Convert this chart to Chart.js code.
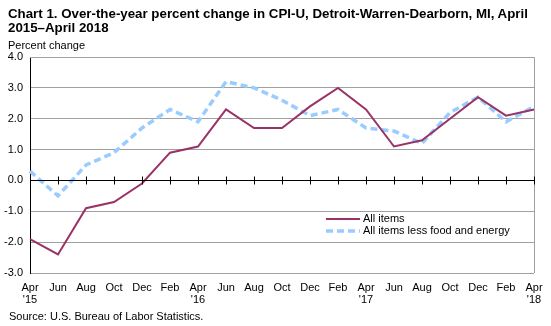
<!DOCTYPE html>
<html>
<head>
<meta charset="utf-8">
<script src="https://cdn.jsdelivr.net/npm/chart.js@4/dist/chart.umd.min.js"></script>
<style>
body { margin: 0; background: #fff; font-family: "Liberation Sans", Arial, sans-serif; }
#wrap { position: relative; width: 551px; height: 326px; }
#title { position: absolute; left: 8px; top: 7px; font-size: 13.3px; font-weight: bold; line-height: 14px; color: #000; }
#ylab { position: absolute; left: 8px; top: 39px; font-size: 11px; color: #000; }
#src { position: absolute; left: 9px; top: 310px; font-size: 11px; color: #000; }
canvas { position: absolute; left: 0; top: 0; }
</style>
</head>
<body>
<div id="wrap">
<canvas id="chart" width="551" height="326"></canvas>
<div id="title">Chart 1. Over-the-year percent change in CPI-U, Detroit-Warren-Dearborn, MI, April<br>2015–April 2018</div>
<div id="ylab">Percent change</div>
<div id="src">Source: U.S. Bureau of Labor Statistics.</div>
</div>
<script>
const months = ['Apr', 'Jun', 'Aug', 'Oct', 'Dec', 'Feb', 'Apr', 'Jun', 'Aug', 'Oct', 'Dec', 'Feb', 'Apr', 'Jun', 'Aug', 'Oct', 'Dec', 'Feb', 'Apr'];
const years = ["'15", '', '', '', '', '', "'16", '', '', '', '', '', "'17", '', '', '', '', '', "'18"];
const allItems = [-1.9, -2.4, -0.9, -0.7, -0.1, 0.9, 1.1, 2.3, 1.7, 1.7, 2.4, 3.0, 2.3, 1.1, 1.3, 2.0, 2.7, 2.1, 2.3];
const core = [0.3, -0.5, 0.5, 0.9, 1.7, 2.3, 1.9, 3.2, 3.0, 2.6, 2.1, 2.3, 1.7, 1.6, 1.2, 2.2, 2.7, 1.9, 2.4];

const labels = months.map((m, i) => years[i] ? [m, years[i]] : m);
const FONT = '"Liberation Sans", Arial, sans-serif';

// zero line with tick marks, plot frame and legend
const extras = {
  id: 'extras',
  afterDatasetsDraw(c) {
    const { ctx, chartArea: a, scales: { x, y } } = c;
    ctx.save();
    ctx.strokeStyle = '#a0a0a0';
    ctx.lineWidth = 1;
    ctx.beginPath();
    ctx.moveTo(a.left, a.top + 0.5);
    ctx.lineTo(a.right + 0.5, a.top + 0.5);
    ctx.lineTo(a.right + 0.5, a.bottom);
    ctx.stroke();

    const y0 = Math.round(y.getPixelForValue(0)) + 0.5;
    ctx.strokeStyle = '#000';
    ctx.beginPath();
    ctx.moveTo(a.left, y0);
    ctx.lineTo(a.right, y0);
    for (let i = 1; i < labels.length; i++) {
      const px = Math.round(x.getPixelForValue(i)) + 0.5;
      ctx.moveTo(px, y0 - 4);
      ctx.lineTo(px, y0 + 4);
    }
    ctx.stroke();

    // legend
    const lx = 326, ly = 219;
    c.data.datasets.forEach((ds, i) => {
      const yy = ly + i * 12;
      ctx.strokeStyle = ds.borderColor;
      ctx.lineWidth = ds.borderWidth;
      ctx.setLineDash(ds.borderDash || []);
      ctx.beginPath();
      ctx.moveTo(lx, yy);
      ctx.lineTo(lx + 34, yy);
      ctx.stroke();
      ctx.setLineDash([]);
      ctx.fillStyle = '#000';
      ctx.font = '11px ' + FONT;
      ctx.textBaseline = 'middle';
      ctx.fillText(ds.label, lx + 37, yy);
    });
    ctx.restore();
  }
};

new Chart(document.getElementById('chart'), {
  type: 'line',
  data: {
    labels: labels,
    datasets: [
      { label: 'All items', data: allItems, borderColor: '#993366', borderWidth: 2, pointRadius: 0, tension: 0 },
      { label: 'All items less food and energy', data: core, borderColor: '#99ccff', borderWidth: 3.5, borderDash: [7, 4], pointRadius: 0, tension: 0 }
    ]
  },
  options: {
    responsive: false,
    animation: false,
    layout: { padding: { top: 57, right: 17, left: 0, bottom: 0 } },
    plugins: { legend: { display: false }, tooltip: { enabled: false } },
    scales: {
      x: {
        offset: false,
        grid: { display: false },
        border: { display: false },
        ticks: { autoSkip: false, maxRotation: 0, color: '#000', font: { family: FONT, size: 11, lineHeight: 1.1 }, padding: 1 },
        afterFit: s => { s.height = 53; }
      },
      y: {
        min: -3, max: 4,
        ticks: { stepSize: 1, color: '#000', font: { family: FONT, size: 11 }, padding: 7, callback: v => v.toFixed(1) },
        grid: { color: '#a0a0a0', drawTicks: false },
        border: { color: '#000' },
        afterFit: s => { s.width = 30; }
      }
    }
  },
  plugins: [extras]
});
</script>
</body>
</html>
